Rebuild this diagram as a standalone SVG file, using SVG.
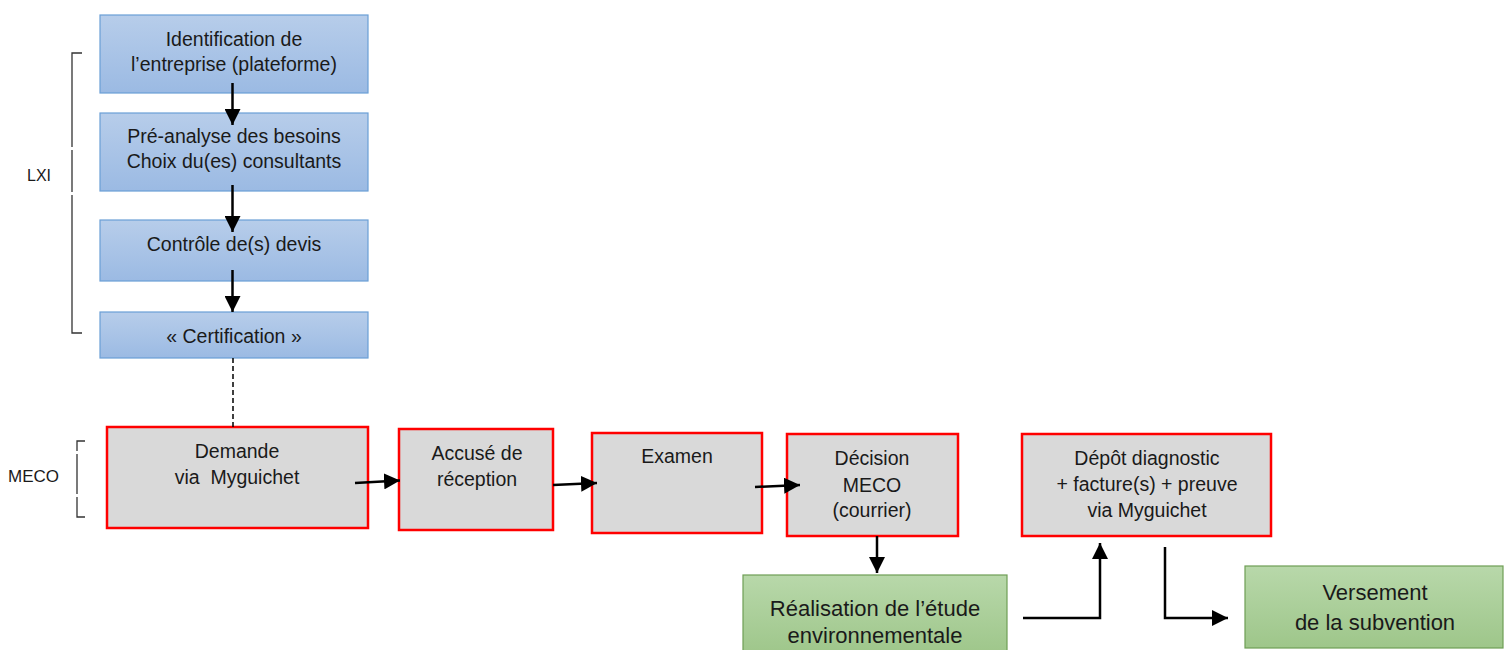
<svg xmlns="http://www.w3.org/2000/svg" width="1505" height="650" viewBox="0 0 1505 650">
<defs>
<linearGradient id="gBlue" x1="0" y1="0" x2="0" y2="1">
<stop offset="0" stop-color="#b7cdea"/>
<stop offset="1" stop-color="#9bbae3"/>
</linearGradient>
<linearGradient id="gGreen" x1="0" y1="0" x2="0" y2="1">
<stop offset="0" stop-color="#b8d8aa"/>
<stop offset="1" stop-color="#9ec68a"/>
</linearGradient>
<marker id="ah" markerUnits="userSpaceOnUse" markerWidth="17" markerHeight="16" refX="16" refY="8" orient="auto">
<path d="M0,0 L16,8 L0,16 Z" fill="#000"/>
</marker>
<style>
.blue{fill:url(#gBlue);stroke:#6a9fd6;stroke-width:1.2}
.grey{fill:#d9d9d9;stroke:#ff0000;stroke-width:2.5}
.green{fill:url(#gGreen);stroke:#6e9e55;stroke-width:1.2}
.t{font-family:"Liberation Sans",Arial,sans-serif;font-size:19.5px;fill:#1a1a1a;text-anchor:middle}
.tg{font-family:"Liberation Sans",Arial,sans-serif;font-size:22px;fill:#1a1a1a;text-anchor:middle}
.lab{font-family:"Liberation Sans",Arial,sans-serif;font-size:16px;fill:#1a1a1a}
.br{fill:none;stroke:#333;stroke-width:1.3}
.c{fill:none;stroke:#000;stroke-width:2.5}
.d{fill:none;stroke:#000;stroke-width:1.5;stroke-dasharray:5 3}
</style>
</defs>
<rect width="1505" height="650" fill="#fff"/>

<g id="bracket-lxi">
<path class="br" d="M82,53 H72 V147 M72,150 V192 M72,195 V333 H82"/>
<text class="lab" x="27" y="181">LXI</text>
</g>
<g id="bracket-meco">
<path class="br" d="M85,441 H77 V451 M77,454 V494 M77,497 V517 H85"/>
<text class="lab" x="8" y="482" style="font-size:17px">MECO</text>
</g>

<g id="n-identification">
<rect class="blue" x="100" y="15" width="268" height="78"/>
<text class="t" x="234" y="46">Identification de</text>
<text class="t" x="234" y="71">l’entreprise (plateforme)</text>
</g>
<g id="n-preanalyse">
<rect class="blue" x="100" y="113" width="268" height="78"/>
<text class="t" x="234" y="143">Pré-analyse des besoins</text>
<text class="t" x="234" y="168">Choix du(es) consultants</text>
</g>
<g id="n-controle">
<rect class="blue" x="100" y="220" width="268" height="61"/>
<text class="t" x="234" y="251">Contrôle de(s) devis</text>
</g>
<g id="n-certification">
<rect class="blue" x="100" y="312" width="268" height="46"/>
<text class="t" x="234" y="343">« Certification »</text>
</g>

<g id="n-demande">
<rect class="grey" x="107" y="427" width="261" height="101"/>
<text class="t" x="237" y="458">Demande</text>
<text class="t" x="237" y="484" xml:space="preserve">via  Myguichet</text>
</g>
<g id="n-accuse">
<rect class="grey" x="399" y="429" width="154" height="101"/>
<text class="t" x="477" y="460">Accusé de</text>
<text class="t" x="477" y="486">réception</text>
</g>
<g id="n-examen">
<rect class="grey" x="592" y="433" width="170" height="100"/>
<text class="t" x="677" y="463">Examen</text>
</g>
<g id="n-decision">
<rect class="grey" x="787" y="434" width="171" height="102"/>
<text class="t" x="872" y="465">Décision</text>
<text class="t" x="872" y="492">MECO</text>
<text class="t" x="872" y="517">(courrier)</text>
</g>
<g id="n-depot">
<rect class="grey" x="1022" y="434" width="249" height="102"/>
<text class="t" x="1147" y="465">Dépôt diagnostic</text>
<text class="t" x="1147" y="491">+ facture(s) + preuve</text>
<text class="t" x="1147" y="517">via Myguichet</text>
</g>
<g id="n-realisation">
<rect class="green" x="743" y="575" width="264" height="80"/>
<text class="tg" x="875" y="616">Réalisation de l’étude</text>
<text class="tg" x="875" y="643">environnementale</text>
</g>
<g id="n-versement">
<rect class="green" x="1245" y="566" width="258" height="82"/>
<text class="tg" x="1375" y="600">Versement</text>
<text class="tg" x="1375" y="630">de la subvention</text>
</g>

<g id="connectors">
<line class="c" x1="232.5" y1="83" x2="232.5" y2="125" marker-end="url(#ah)"/>
<line class="c" x1="232.5" y1="185" x2="232.5" y2="232" marker-end="url(#ah)"/>
<line class="c" x1="232.5" y1="270" x2="232.5" y2="312" marker-end="url(#ah)"/>
<line class="d" x1="233" y1="358" x2="233" y2="427"/>
<line class="c" x1="355" y1="483" x2="400" y2="480.5" marker-end="url(#ah)"/>
<line class="c" x1="553" y1="485" x2="597" y2="483" marker-end="url(#ah)"/>
<line class="c" x1="755" y1="487" x2="800" y2="485" marker-end="url(#ah)"/>
<line class="c" x1="877" y1="536" x2="877" y2="573" marker-end="url(#ah)"/>
<path class="c" d="M1023,618 H1100 V543" marker-end="url(#ah)"/>
<path class="c" d="M1165,547 V618 H1228" marker-end="url(#ah)"/>
</g>
</svg>
